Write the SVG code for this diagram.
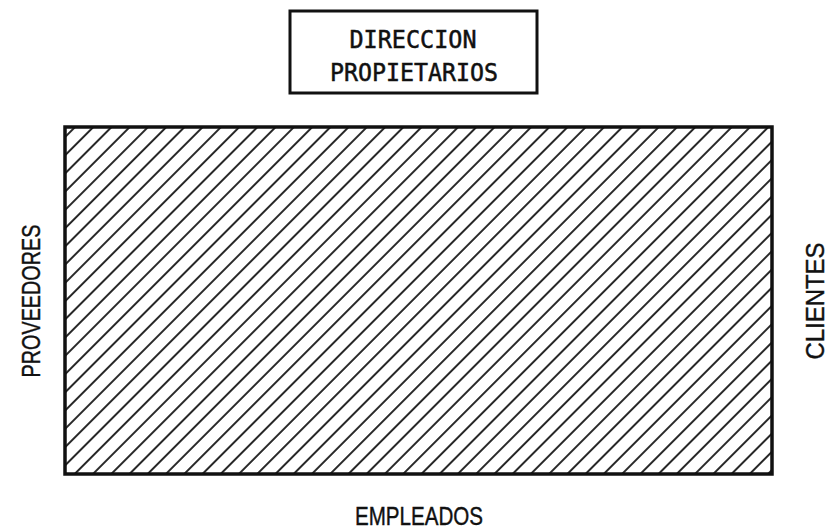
<svg xmlns="http://www.w3.org/2000/svg" width="832" height="532" viewBox="0 0 832 532">
<style>
.frame{fill:none;stroke:#111;stroke-width:3.5}
.box{fill:none;stroke:#111;stroke-width:3}
.t{font-family:"DejaVu Sans Mono","Liberation Mono",monospace;font-size:24px;fill:#111;stroke:#111;stroke-width:0.5;text-anchor:middle}
.l{font-family:"Liberation Sans",Arial,sans-serif;font-size:25px;fill:#111;stroke:#111;stroke-width:0.4;text-anchor:middle}
</style>
<defs>
<pattern id="hatch" patternUnits="userSpaceOnUse" width="12.9" height="12.9" patternTransform="rotate(-45)">
<line x1="0" y1="1" x2="12.9" y2="1" stroke="#111" stroke-width="1.8"/>
</pattern>
</defs>
<rect width="832" height="532" fill="#fff"/>
<g id="direccion">
<rect class="box" x="290" y="11" width="247" height="82"/>
<text class="t" x="413" y="48" textLength="127" lengthAdjust="spacingAndGlyphs">DIRECCION</text>
<text class="t" x="414" y="81" textLength="168" lengthAdjust="spacingAndGlyphs">PROPIETARIOS</text>
</g>
<g id="empresa">
<rect x="65" y="127" width="707" height="347" fill="url(#hatch)"/>
<rect class="frame" x="65" y="127" width="707" height="347"/>
</g>
<g id="proveedores">
<text class="l" transform="translate(40,301) rotate(-90)" textLength="153" lengthAdjust="spacingAndGlyphs">PROVEEDORES</text>
</g>
<g id="clientes">
<text class="l" transform="translate(824,301) rotate(-90)" textLength="117" lengthAdjust="spacingAndGlyphs">CLIENTES</text>
</g>
<g id="empleados">
<text class="l" x="419" y="525" textLength="128" lengthAdjust="spacingAndGlyphs">EMPLEADOS</text>
</g>
<g id="connectors"></g>
</svg>
